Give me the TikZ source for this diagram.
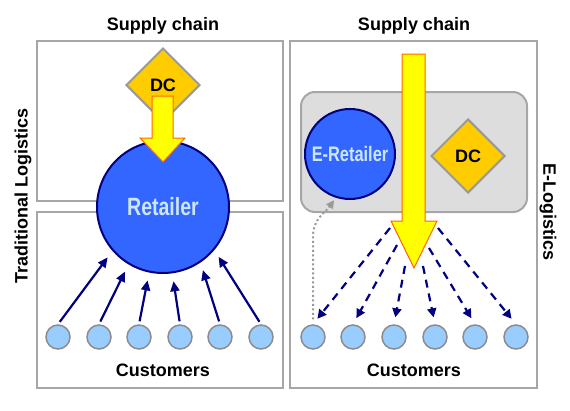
\documentclass[tikz,border=0pt]{standalone}
\usepackage{fontspec}
\setmainfont{Liberation Sans}
\usetikzlibrary{shapes.geometric,arrows.meta,calc}
\definecolor{panelgray}{HTML}{A6A6A6}
\definecolor{dcfill}{HTML}{FFCC00}
\definecolor{dcdraw}{HTML}{999999}
\definecolor{retfill}{HTML}{3366FF}
\definecolor{retdraw}{HTML}{000080}
\definecolor{rettext}{HTML}{CCE6FF}
\definecolor{custfill}{HTML}{99CCFF}
\definecolor{custdraw}{HTML}{8C8C8C}
\definecolor{boxfill}{HTML}{DDDDDD}
\definecolor{arrfill}{HTML}{FFFF00}
\definecolor{arrdraw}{HTML}{FF6600}
\definecolor{navy}{HTML}{000080}
\tikzset{
  big/.style={font=\fontsize{18}{20}\selectfont\bfseries},
  panel/.style={draw=panelgray, line width=2.5pt},
  dcnode/.style={diamond, fill=dcfill, draw=dcdraw, line width=2pt, minimum width=74pt, minimum height=74pt, inner sep=0pt, big},
  retnode/.style={circle, fill=retfill, draw=retdraw, line width=2pt, inner sep=0pt, text=rettext},
  cust/.style={circle, fill=custfill, draw=custdraw, line width=1.5pt, minimum size=24pt, inner sep=0pt},
  yarrow/.style={fill=arrfill, draw=arrdraw, line width=1pt, line join=miter},
  solidarr/.style={draw=navy, line width=2.2pt, -{Triangle[length=10pt,width=9pt]}, shorten <=3pt, shorten >=8pt},
  dasharr/.style={draw=navy, line width=2.2pt, dash pattern=on 8pt off 6pt, -{Triangle[length=9pt,width=9pt]}, shorten >=7pt},
  dotarr/.style={draw=dcdraw, line width=2pt, dash pattern=on 2pt off 2.5pt, -{Triangle[length=8pt,width=8pt]}, shorten <=5pt, shorten >=3pt},
}
\begin{document}
\begin{tikzpicture}[x=1pt,y=-1pt]
\useasboundingbox (0,0) rectangle (570,410);
% panels
\draw[panel] (37,41) rectangle (283,201);
\draw[panel] (37,212) rectangle (283,388);
\draw[panel] (290,41) rectangle (537,388);
% titles
\node[big] (sc1) at (163,26) {Supply chain};
\node[big] (sc2) at (414,26) {Supply chain};
\node[big] (cu1) at (163,370) {Customers};
\node[big] (cu2) at (414,370) {Customers};
\node[big, rotate=90] (tl) at (23,196) {Traditional Logistics};
\node[big, rotate=-90] (el) at (548,212) {E-Logistics};
% left panel
\node[dcnode] (dc1) at (163,85) {DC};
\node[retnode, minimum size=132pt] (ret) at (163,207) {\raisebox{2pt}{\scalebox{0.78}[1]{\fontsize{25}{27}\selectfont\bfseries Retailer}}};
\draw[yarrow] (152,96) -- (173,96) -- (173,138) -- (185,138) -- (163,162) -- (140,138) -- (152,138) -- cycle;
\foreach \i/\x in {1/58,2/99,3/139,4/180,5/220,6/261}{
  \node[cust] (l\i) at (\x,337) {};
}
\draw[solidarr] (l1.north) -- (ret.221.8);
\draw[solidarr] (l2.north) -- (ret.239.4);
\draw[solidarr] (l3.north) -- (ret.258.4);
\draw[solidarr] (l4.north) -- (ret.278.6);
\draw[solidarr] (l5.north) -- (ret.304.5);
\draw[solidarr] (l6.north) -- (ret.320.5);
% right panel
\node[draw=panelgray, fill=boxfill, line width=2pt, rounded corners=14pt, minimum width=226pt, minimum height=120pt] (grp) at (414,152) {};
\node[retnode, minimum size=90pt] (eret) at (350,154) {\scalebox{0.78}[1]{\fontsize{21}{23}\selectfont\bfseries E-Retailer}};
\node[dcnode] (dc2) at (468,156) {DC};
\foreach \i/\x in {1/313,2/353,3/394,4/435,5/475,6/516}{
  \node[cust] (r\i) at (\x,337) {};
}
\coordinate (s1) at (390,228);
\coordinate (s2) at (397,245);
\coordinate (s3) at (405,266);
\coordinate (s4) at (423,266);
\coordinate (s5) at (429,248);
\coordinate (s6) at (438,228);
\foreach \i in {1,...,6}{
  \draw[dasharr] (s\i) -- (r\i.north);
}
\draw[yarrow] (402,54) -- (425,54) -- (425,221) -- (437,221) -- (414,268) -- (391,221) -- (402,221) -- cycle;
\draw[dotarr] (r1.north) -- ($(r1.north)+(0,-88)$) to[out=90,in=235] (eret.252);
\end{tikzpicture}
\end{document}
